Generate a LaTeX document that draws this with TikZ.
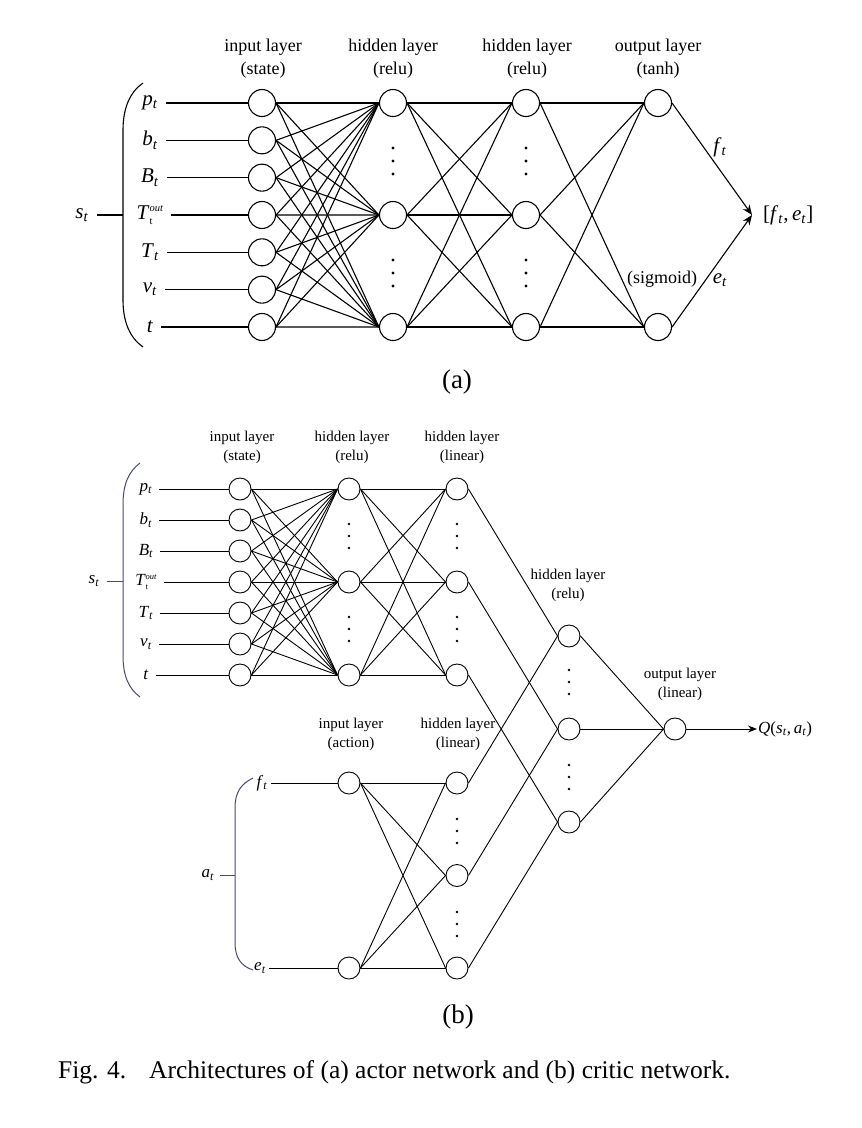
\documentclass[tikz,border=0pt]{standalone}
\usepackage{fontspec}
\setmainfont{Liberation Serif}
\usetikzlibrary{arrows.meta}

\newcommand{\sym}[2]{\textit{#1}\textsubscript{\textit{#2}}}
\newcommand{\Tout}{\textit{T}\rlap{\raisebox{-0.22em}{\scalebox{0.5}{t}}}\raisebox{0.38em}{\scalebox{0.5}{\textit{out}}}}
\definecolor{bracecol}{RGB}{70,76,112}

\begin{document}
\begin{tikzpicture}[x=1pt,y=-1pt,
    neuronA/.style={circle,draw,minimum size=27pt,inner sep=0pt,line width=1.1pt},
    neuronB/.style={circle,draw,minimum size=22pt,inner sep=0pt,line width=0.9pt},
    headA/.style={align=center,font=\fontsize{18}{23}\selectfont},
    headB/.style={align=center,font=\fontsize{15}{19}\selectfont},
    varA/.style={font=\fontsize{21}{25}\selectfont,inner sep=1pt},
    varB/.style={font=\fontsize{17}{20}\selectfont,inner sep=1pt},
    linkA/.style={line width=1.1pt},
    linkB/.style={line width=0.9pt}]
    \useasboundingbox (0,0) rectangle (862,1128);

    % (a) actor network
    \node[headA] (ahin) at (263,58.5) {input layer\\(state)};
    \node[headA] (ahh1) at (393,58.5) {hidden layer\\(relu)};
    \node[headA] (ahh2) at (527,58.5) {hidden layer\\(relu)};
    \node[headA] (ahout) at (658,58.5) {output layer\\(tanh)};

    \foreach \lab [count=\i] in {{\sym{p}{t}},{\sym{b}{t}},{\sym{B}{t}},{\Tout},{\sym{T}{t}},{\sym{v}{t}},{\textit{t}}} {
      \node[neuronA] (ai\i) at (262,{103+(\i-1)*37.33}) {};
      \node[varA] (al\i) at (150,{103+(\i-1)*37.33}) {\lab};
      \draw[linkA,shorten <=7pt] (al\i) -- (ai\i);
    }
    \foreach \j/\y in {1/103,2/215,3/327} {
      \node[neuronA] (ah\j) at (393,\y) {};
      \node[neuronA] (ag\j) at (526,\y) {};
    }
    \node[neuronA] (ao1) at (658,103) {};
    \node[neuronA] (ao2) at (658,327) {};

    \foreach \i in {1,...,7}
      \foreach \j in {1,2,3}
        \draw[linkA] (ai\i.east) -- (ah\j.west);
    \foreach \i in {1,2,3} {
      \foreach \j in {1,2,3}
        \draw[linkA] (ah\i.east) -- (ag\j.west);
      \foreach \j in {1,2}
        \draw[linkA] (ag\i.east) -- (ao\j.west);
    }
    \foreach \x in {393,526}
      \foreach \y in {161,273}
        \foreach \d in {-13,0,13}
          \fill (\x,{\y+\d}) circle (1.7pt);

    \coordinate (amerge) at (752,215);
    \draw[linkA,-{Stealth[length=10pt,width=8pt]}] (ao1.east) -- (amerge);
    \draw[linkA,-{Stealth[length=10pt,width=8pt]}] (ao2.east) -- (amerge);
    \node[varA,anchor=west] (aout) at (762,215) {[\sym{f}{t},\,\sym{e}{t}]};
    \node[varA] (af) at (720,147) {\sym{f}{t}};
    \node[varA] (ae) at (720,280) {\sym{e}{t}};
    \node[headA] (asig) at (662,279) {(sigmoid)};

    % state brace
    \draw[line width=1.1pt] (143,83) .. controls (130,92) and (123,108) .. (123,130)
      -- (123,300) .. controls (123,322) and (130,338) .. (143,347);
    \node[varA] (as) at (82,215) {\sym{s}{t}};
    \coordinate (abrace) at (123,215);
    \draw[linkA,shorten <=7pt] (as.east) -- (abrace);

    \node[font=\fontsize{27}{30}\selectfont] (alab) at (457,382) {(a)};

    % (b) critic network
    \node[headB] (bhin) at (242,447.5) {input layer\\(state)};
    \node[headB] (bhh1) at (352,447.5) {hidden layer\\(relu)};
    \node[headB] (bhh2) at (462,447.5) {hidden layer\\(linear)};
    \node[headB] (bhh3) at (568,585.5) {hidden layer\\(relu)};
    \node[headB] (bhout) at (680,684) {output layer\\(linear)};
    \node[headB] (bhact) at (351,734.5) {input layer\\(action)};
    \node[headB] (bhh4) at (458,734.5) {hidden layer\\(linear)};

    \foreach \lab [count=\i] in {{\sym{p}{t}},{\sym{b}{t}},{\sym{B}{t}},{\Tout},{\sym{T}{t}},{\sym{v}{t}},{\textit{t}}} {
      \node[neuronB] (bi\i) at (240,{489+(\i-1)*31}) {};
      \node[varB] (bl\i) at (146,{489+(\i-1)*31}) {\lab};
      \draw[linkB,shorten <=6pt] (bl\i) -- (bi\i);
    }
    \foreach \j/\y in {1/489,2/582,3/675} {
      \node[neuronB] (bh\j) at (349,\y) {};
      \node[neuronB] (bg\j) at (457,\y) {};
    }
    \foreach \j/\y in {1/636,2/729,3/822}
      \node[neuronB] (br\j) at (569,\y) {};
    \foreach \j/\y in {1/783,2/875.5,3/968}
      \node[neuronB] (bk\j) at (457,\y) {};
    \node[neuronB] (ba1) at (349,783) {};
    \node[neuronB] (ba2) at (349,968) {};
    \node[neuronB] (bo) at (675,729) {};

    \node[varB] (bf) at (262,783) {\sym{f}{t}};
    \node[varB] (be) at (260,968) {\sym{e}{t}};
    \draw[linkB,shorten <=2pt] (bf) -- (ba1);
    \draw[linkB,shorten <=2pt] (be) -- (ba2);

    \foreach \i in {1,...,7}
      \foreach \j in {1,2,3}
        \draw[linkB] (bi\i.east) -- (bh\j.west);
    \foreach \i in {1,2,3} {
      \foreach \j in {1,2,3}
        \draw[linkB] (bh\i.east) -- (bg\j.west);
      \draw[linkB] (bg\i.east) -- (br\i.west);
      \draw[linkB] (bk\i.east) -- (br\i.west);
      \draw[linkB] (br\i.east) -- (bo.west);
    }
    \foreach \i in {1,2}
      \foreach \j in {1,2,3}
        \draw[linkB] (ba\i.east) -- (bk\j.west);

    \foreach \x/\y in {349/536,349/629,457/536,457/629,569/682,569/777,457/831,457/924}
      \foreach \d in {-12,0,12}
        \fill (\x,{\y+\d}) circle (1.4pt);

    \node[varB,anchor=west] (bq) at (757,729) {\textit{Q}(\sym{s}{t},\,\sym{a}{t})};
    \draw[linkB,-{Stealth[length=9pt,width=7pt]}] (bo.east) -- (bq.west);

    % state and action braces
    \draw[line width=1pt,bracecol] (140,463) .. controls (128,472) and (123,485) .. (123,505)
      -- (123,655) .. controls (123,675) and (128,688) .. (140,697);
    \node[varB] (bs) at (94,581) {\sym{s}{t}};
    \coordinate (bbrace) at (123,581);
    \draw[linkB,bracecol,shorten <=6pt] (bs.east) -- (bbrace);

    \draw[line width=1pt,bracecol] (253,778) .. controls (241,784) and (235,792) .. (235,808)
      -- (235,942) .. controls (235,958) and (241,966) .. (253,970);
    \node[varB] (bact) at (208,875) {\sym{a}{t}};
    \coordinate (abrace2) at (235,875);
    \draw[linkB,bracecol,shorten <=5pt] (bact.east) -- (abrace2);

    \node[font=\fontsize{27}{30}\selectfont] (blab) at (458,1017) {(b)};

    % caption
    \node[anchor=west,font=\fontsize{25.5}{30}\selectfont,inner sep=0pt] (cap) at (58,1072)
      {Fig. 4.\hspace{0.9em}Architectures of (a) actor network and (b) critic network.};
\end{tikzpicture}
\end{document}
